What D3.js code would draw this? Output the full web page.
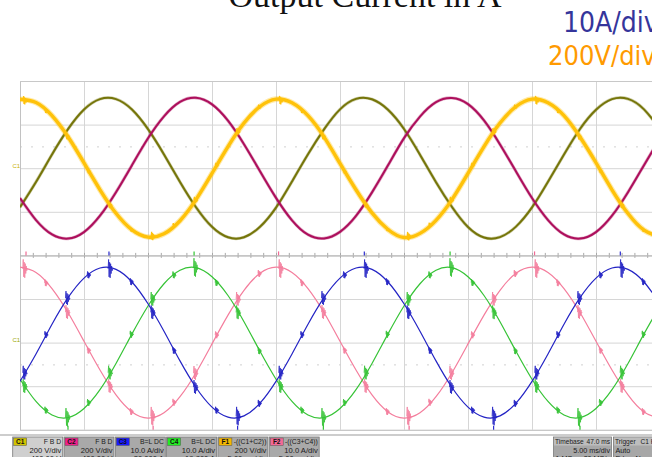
<!DOCTYPE html>
<html>
<head>
<meta charset="utf-8">
<script src="https://cdn.jsdelivr.net/npm/d3@7"></script>
<style>
  html, body { margin: 0; padding: 0; background: #ffffff; overflow: hidden; }
  svg { display: block; }
</style>
</head>
<body>
<svg id="scope" width="652" height="457"></svg>
<script>
// Sample instants (ms) of the captured waveforms, 5 ms/div over 10 divisions
const times = [0,1.25,2.5,3.75,5,6.25,7.5,8.75,10,11.25,12.5,13.75,15,16.25,17.5,18.75,
  20,21.25,22.5,23.75,25,26.25,27.5,28.75,30,31.25,32.5,33.75,35,36.25,37.5,38.75,
  40,41.25,42.5,43.75,45,46.25,47.5,48.75,50];

// Phase voltages (V), 200 V/div
const c1Volts = [-179,-63,63,179,269,317,317,269,179,63,-63,-179,-269,-317,-317,-269,
  -181,-61,64,178,270,318,316,268,180,62,-64,-178,-270,-318,-316,-268,
  -180,-62,63,180,268,317,318,270,178];
const c2Volts = [-137,-238,-304,-323,-293,-218,-110,14,137,238,304,323,293,218,110,-14,
  -136,-239,-305,-322,-292,-219,-111,13,138,237,303,322,294,219,109,-15,
  -137,-238,-304,-323,-293,-218,-110,14,137];
const f1Volts = [316,301,241,144,24,-99,-207,-283,-316,-301,-241,-144,-24,99,207,283,
  317,300,241,144,22,-99,-205,-281,-318,-299,-239,-144,-24,99,207,283,
  317,300,241,143,25,-99,-208,-284,-315];

// Output currents (A), 10 A/div
const c3Amps = [-8.9,-2.6,4.2,10.3,14.8,17.1,16.8,13.9,8.9,2.6,-4.2,-10.3,-14.8,-17.1,-16.8,-13.9,
  -8.9,-2.6,4.2,10.3,14.8,17.1,16.8,13.9,8.9,2.6,-4.2,-10.3,-14.8,-17.1,-16.8,-13.9,
  -8.9,-2.6,4.2,10.3,14.8,17.1,16.8,13.9,8.9];
const c4Amps = [-8.4,-13.5,-16.6,-17.2,-15.1,-10.8,-4.8,2.0,8.4,13.5,16.6,17.2,15.1,10.8,4.8,-2.0,
  -8.4,-13.5,-16.6,-17.2,-15.1,-10.8,-4.8,2.0,8.4,13.5,16.6,17.2,15.1,10.8,4.8,-2.0,
  -8.4,-13.5,-16.6,-17.2,-15.1,-10.8,-4.8,2.0,8.4];
const f2Amps = [17.3,16.1,12.4,6.9,0.3,-6.3,-12.0,-15.9,-17.3,-16.1,-12.4,-6.9,-0.3,6.3,12.0,15.9,
  17.3,16.1,12.4,6.9,0.3,-6.3,-12.0,-15.9,-17.3,-16.1,-12.4,-6.9,-0.3,6.3,12.0,15.9,
  17.3,16.1,12.4,6.9,0.3,-6.3,-12.0,-15.9,-17.3];

// Switching noise bursts (ms)
const burstTimes = [0.39,3.73,7.06,10.39,13.73,17.06,20.39,23.73,27.06,30.39,33.73,37.06,40.39,43.73,47.06];
const minorBurstTimes = [2.06,5.39,8.73,12.06,15.39,18.73,22.06,25.39,28.73,32.06,35.39,38.73,42.06,45.39,48.73];

// Cursor marks on the lower edge of each grid (ms)
const peakMarkTimes = [0.47,6.95,13.6,20.2,26.9,33.6,40.2,46.9];
const troughMarkTimes = [3.75,10.4,17.0,23.7,30.4,37.0,43.75];

// Grid divisions
const gridTimes = [0,5,10,15,20,25,30,35,40,45,50];
const voltTicks = [-400,-200,0,200,400];
const ampTicks = [-20,-10,0,10,20];
const minorTimes = d3.range(0, 50.01, 1);

// Channel descriptors for the status bar
const channelBoxes = [
  {id:"C1", color:"#d2c400", head:"F B D",      scale:"200 V/div",   offset:"400.00 V",    bg:"#cfcfcf"},
  {id:"C2", color:"#f0208a", head:"F B D",      scale:"200 V/div",   offset:"400.00 V",    bg:"#a9a9a9"},
  {id:"C3", color:"#1a1aff", head:"B=L DC",     scale:"10.0 A/div",  offset:"-20.000 A",   bg:"#a9a9a9"},
  {id:"C4", color:"#22ee22", head:"B=L DC",     scale:"10.0 A/div",  offset:"-19.800 A",   bg:"#a9a9a9"},
  {id:"F1", color:"#f5b800", head:"-((C1+C2))", scale:"200 V/div",   offset:"5.00 ms/div", bg:"#a9a9a9"},
  {id:"F2", color:"#f36a96", head:"-((C3+C4))", scale:"10.0 A/div",  offset:"5.00 ms/div", bg:"#a9a9a9"}
];

const svg = d3.select("#scope");

const x = d3.scaleLinear().domain([0, 50]).range([20, 660]);
const yV = d3.scaleLinear().domain([-400, 400]).range([255.4, 81]);
const yA = d3.scaleLinear().domain([-20, 20]).range([429.8, 255.4]);

// ---- heading texts ----
svg.append("text")
  .attr("x", 365).attr("y", 7)
  .attr("text-anchor", "middle")
  .attr("font-family", "'Liberation Serif', 'DejaVu Serif', serif")
  .attr("font-size", 34)
  .attr("fill", "#111")
  .text("Output Current in A");

svg.append("text")
  .attr("x", 563).attr("y", 32)
  .attr("font-family", "'DejaVu Sans Condensed', 'DejaVu Sans', sans-serif")
  .attr("font-stretch", "condensed")
  .attr("font-size", 28)
  .attr("fill", "#35359b")
  .text("10A/div");

svg.append("text")
  .attr("x", 548).attr("y", 65)
  .attr("font-family", "'DejaVu Sans Condensed', 'DejaVu Sans', sans-serif")
  .attr("font-stretch", "condensed")
  .attr("font-size", 27)
  .attr("fill", "#ff9a00")
  .text("200V/div");

// ---- graticule ----
const grid = svg.append("g").attr("class", "graticule");
const gridStroke = "#d6d6d6";

grid.append("g")
  .attr("transform", `translate(0,${yV.range()[1]})`)
  .call(d3.axisBottom(x).tickValues(gridTimes).tickSize(yA.range()[0] - yV.range()[1]).tickFormat(""))
  .call(g => g.select(".domain").remove())
  .call(g => g.selectAll("line").attr("stroke", gridStroke));

grid.append("g")
  .attr("transform", `translate(${x.range()[0]},0)`)
  .call(d3.axisRight(yV).tickValues(voltTicks).tickSize(x.range()[1] - x.range()[0]).tickFormat(""))
  .call(g => g.select(".domain").remove())
  .call(g => g.selectAll("line").attr("stroke", gridStroke));

grid.append("g")
  .attr("transform", `translate(${x.range()[0]},0)`)
  .call(d3.axisRight(yA).tickValues(ampTicks).tickSize(x.range()[1] - x.range()[0]).tickFormat(""))
  .call(g => g.select(".domain").remove())
  .call(g => g.selectAll("line").attr("stroke", gridStroke));

// faint half-division reference rows
grid.append("line")
  .attr("x1", x(0)).attr("x2", x(50))
  .attr("y1", yV(100) + 0.5).attr("y2", yV(100) + 0.5)
  .attr("stroke", "#d0d0d0").attr("stroke-dasharray", "2,9");
grid.append("line")
  .attr("x1", x(0)).attr("x2", x(50))
  .attr("y1", yA(-5) + 0.5).attr("y2", yA(-5) + 0.5)
  .attr("stroke", "#d0d0d0").attr("stroke-dasharray", "2,9");

// minor ticks along the centre line of the screen
grid.append("g")
  .attr("transform", `translate(0,${yA(20)})`)
  .call(d3.axisBottom(x).tickValues(minorTimes).tickSize(2.5).tickFormat(""))
  .call(g => g.select(".domain").remove())
  .call(g => g.selectAll("line").attr("stroke", "#a8a8a8"));
grid.append("g")
  .attr("transform", `translate(0,${yA(20)})`)
  .call(d3.axisTop(x).tickValues(minorTimes).tickSize(2.5).tickFormat(""))
  .call(g => g.select(".domain").remove())
  .call(g => g.selectAll("line").attr("stroke", "#a8a8a8"));

// grid borders
grid.append("line").attr("x1", 20.5).attr("x2", 20.5).attr("y1", 81).attr("y2", 430).attr("stroke", "#c2c2c2");
grid.append("line").attr("x1", 20).attr("x2", 660).attr("y1", 81.5).attr("y2", 81.5).attr("stroke", "#c8c8c8");
grid.append("line").attr("x1", 20).attr("x2", 660).attr("y1", yA(20) + 0.5).attr("y2", yA(20) + 0.5).attr("stroke", "#b8b8b8");
grid.append("line").attr("x1", 20).attr("x2", 660).attr("y1", yA(-20) + 0.5).attr("y2", yA(-20) + 0.5).attr("stroke", "#c2c2c2");

// channel ground labels
svg.append("text").attr("x", 12.5).attr("y", yV(0) - 0.5)
  .attr("font-family", "'Liberation Sans', Arial, sans-serif").attr("font-size", 6)
  .attr("fill", "#c9b200").text("C1");
svg.append("text").attr("x", 12.5).attr("y", yA(0) - 0.5)
  .attr("font-family", "'Liberation Sans', Arial, sans-serif").attr("font-size", 6)
  .attr("fill", "#9aa800").text("C1");

// ---- traces ----
svg.append("clipPath").attr("id", "screen")
  .append("rect").attr("x", 20).attr("y", 81).attr("width", 640).attr("height", 349);
const traces = svg.append("g").attr("clip-path", "url(#screen)");

function valueAt(series, t) {
  const i = Math.min(times.length - 2, Math.max(0, d3.bisectRight(times, t) - 1));
  const f = (t - times[i]) / (times[i + 1] - times[i]);
  return series[i] + (series[i + 1] - series[i]) * f;
}

// vertical ringing glyph for a switching burst, centred on the trace
function burst(cx, cy, a, w) {
  const steps = [0, -1, 0.85, -0.7, 0.95, -0.55, 0.5, -0.3, 0.2, 0];
  return steps.map((s, i) => (i ? "L" : "M") +
    (cx - w / 2 + w * i / (steps.length - 1)).toFixed(2) + "," + (cy + s * a).toFixed(2)).join("");
}

function drawTrace(series, yScale, color, width, opts) {
  const line = d3.line()
    .x((d, i) => x(times[i]))
    .y(d => yScale(d))
    .curve(d3.curveNatural);
  if (opts.haze) {
    traces.append("path")
      .datum(series)
      .attr("d", line)
      .attr("fill", "none")
      .attr("stroke", color)
      .attr("stroke-opacity", 0.35)
      .attr("stroke-width", width + opts.haze);
  }
  traces.append("path")
    .datum(series)
    .attr("d", line)
    .attr("fill", "none")
    .attr("stroke", color)
    .attr("stroke-width", width)
    .attr("stroke-linejoin", "round");
  if (!opts.big) return;
  const peak = d3.max(series, Math.abs);
  const b = traces.append("g").attr("stroke", color).attr("fill", "none")
    .attr("stroke-width", opts.burstWidth).attr("stroke-linejoin", "miter");
  burstTimes.forEach(t => {
    const v = valueAt(series, t);
    const a = Math.abs(v) > 0.85 * peak ? opts.big * 1.35 : opts.big;
    b.append("path").attr("d", burst(x(t), yScale(v), a, opts.spread));
  });
  minorBurstTimes.forEach(t => {
    const v = valueAt(series, t);
    b.append("path").attr("d", burst(x(t), yScale(v), opts.small, opts.spread * 0.8));
  });
}

// voltages (upper grid)
drawTrace(c1Volts, yV, "#75750a", 2.0, {haze: 1.2});
drawTrace(c2Volts, yV, "#ad0f5c", 2.0, {haze: 1.2});
drawTrace(f1Volts, yV, "#ffc20a", 3.4, {haze: 2.2, big: 3.2, small: 2.2, burstWidth: 1.3, spread: 3.5});

// currents (lower grid)
drawTrace(f2Amps, yA, "#f47e9d", 1.2, {big: 7, small: 3.5, burstWidth: 0.8, spread: 4.5});
drawTrace(c4Amps, yA, "#36c336", 1.2, {big: 7, small: 3.5, burstWidth: 0.8, spread: 4.5});
drawTrace(c3Amps, yA, "#2323c4", 1.2, {big: 7, small: 3.5, burstWidth: 0.8, spread: 4.5});

// cursor marks
const markColorsTop = ["#f06a94", "#2b2bd0", "#2fc42f"];
const markColorsBottom = ["#2fc42f", "#f06a94", "#2b2bd0"];
svg.append("g").selectAll("line").data(peakMarkTimes).join("line")
  .attr("x1", d => x(d)).attr("x2", d => x(d))
  .attr("y1", yV(-400) - 4).attr("y2", yV(-400))
  .attr("stroke", (d, i) => markColorsTop[i % 3]).attr("stroke-width", 1.2);
svg.append("g").selectAll("line").data(troughMarkTimes).join("line")
  .attr("x1", d => x(d)).attr("x2", d => x(d))
  .attr("y1", yA(-20) - 4).attr("y2", yA(-20))
  .attr("stroke", (d, i) => markColorsBottom[i % 3]).attr("stroke-width", 1.2);

// ---- status bar ----
svg.append("line").attr("x1", 0).attr("x2", 652).attr("y1", 435).attr("y2", 435)
  .attr("stroke", "#bdbdbd").attr("stroke-width", 1.5);

const sbFont = "'Liberation Sans', Arial, sans-serif";
const boxes = svg.append("g").selectAll("g").data(channelBoxes).join("g")
  .attr("transform", (d, i) => `translate(${12.7 + i * 51.3},437)`);
boxes.append("rect").attr("width", 50).attr("height", 24)
  .attr("fill", d => d.bg).attr("stroke", "#7a7a7a").attr("stroke-width", 0.8);
boxes.append("rect").attr("x", 1).attr("y", 1).attr("width", 13).attr("height", 7.5)
  .attr("fill", d => d.color).attr("stroke", "#555").attr("stroke-width", 0.5);
boxes.append("text").attr("x", 7.5).attr("y", 7.3).attr("text-anchor", "middle")
  .attr("font-family", sbFont).attr("font-size", 6.5).attr("font-weight", "bold")
  .attr("fill", "#111").text(d => d.id);
boxes.append("text").attr("x", 48.5).attr("y", 7.3).attr("text-anchor", "end")
  .attr("font-family", sbFont).attr("font-size", 6.8).attr("fill", "#1a1a1a").text(d => d.head);
boxes.append("text").attr("x", 48.5).attr("y", 15.8).attr("text-anchor", "end")
  .attr("font-family", sbFont).attr("font-size", 7.6).attr("fill", "#1a1a1a").text(d => d.scale);
boxes.append("text").attr("x", 48.5).attr("y", 23.8).attr("text-anchor", "end")
  .attr("font-family", sbFont).attr("font-size", 7.6).attr("fill", "#1a1a1a").text(d => d.offset);

// timebase and trigger panels
const tb = svg.append("g").attr("transform", "translate(553.5,437)");
tb.append("rect").attr("width", 58).attr("height", 24).attr("fill", "#a7a7a7").attr("stroke", "#7a7a7a").attr("stroke-width", 0.8);
tb.append("rect").attr("x", 0.5).attr("y", 0.5).attr("width", 57).attr("height", 8).attr("fill", "#bdbdbd");
tb.append("text").attr("x", 1.5).attr("y", 7.3).attr("font-family", sbFont).attr("font-size", 6.6).attr("fill", "#1a1a1a").text("Timebase");
tb.append("text").attr("x", 56.5).attr("y", 7.3).attr("text-anchor", "end").attr("font-family", sbFont).attr("font-size", 6.6).attr("fill", "#1a1a1a").text("47.0 ms");
tb.append("text").attr("x", 56.5).attr("y", 15.8).attr("text-anchor", "end").attr("font-family", sbFont).attr("font-size", 7.2).attr("fill", "#1a1a1a").text("5.00 ms/div");
tb.append("text").attr("x", 2).attr("y", 23.8).attr("font-family", sbFont).attr("font-size", 7.2).attr("fill", "#1a1a1a").text("1 MS");
tb.append("text").attr("x", 56.5).attr("y", 23.8).attr("text-anchor", "end").attr("font-family", sbFont).attr("font-size", 7.2).attr("fill", "#1a1a1a").text("20 MS/s");

const tr = svg.append("g").attr("transform", "translate(613.5,437)");
tr.append("rect").attr("width", 50).attr("height", 24).attr("fill", "#a7a7a7").attr("stroke", "#7a7a7a").attr("stroke-width", 0.8);
tr.append("rect").attr("x", 0.5).attr("y", 0.5).attr("width", 49).attr("height", 8).attr("fill", "#bdbdbd");
tr.append("text").attr("x", 1.5).attr("y", 7.3).attr("font-family", sbFont).attr("font-size", 6.6).attr("fill", "#1a1a1a").text("Trigger");
tr.append("text").attr("x", 27).attr("y", 7.3).attr("font-family", sbFont).attr("font-size", 6.6).attr("fill", "#1a1a1a").text("C1 H");
tr.append("text").attr("x", 2).attr("y", 15.8).attr("font-family", sbFont).attr("font-size", 7.2).attr("fill", "#1a1a1a").text("Auto");
tr.append("text").attr("x", 2).attr("y", 23.8).attr("font-family", sbFont).attr("font-size", 7.2).attr("fill", "#1a1a1a").text("Edge");
tr.append("text").attr("x", 22).attr("y", 23.8).attr("font-family", sbFont).attr("font-size", 7.2).attr("fill", "#1a1a1a").text("Negative");
</script>
</body>
</html>
